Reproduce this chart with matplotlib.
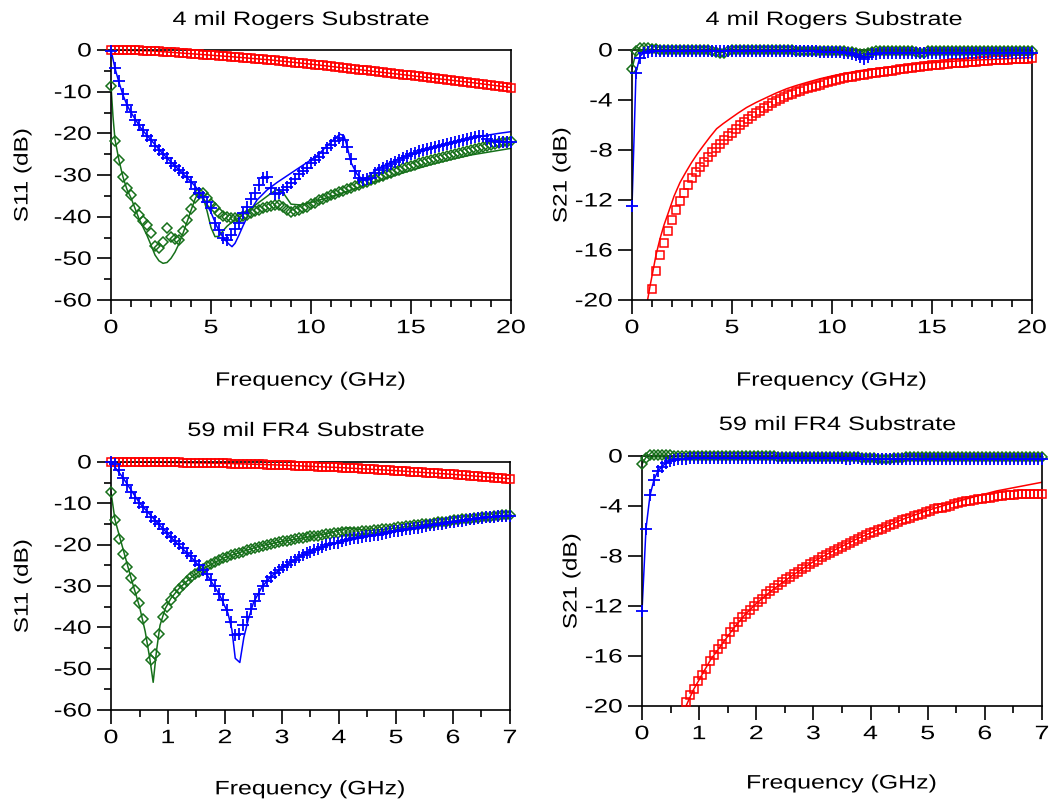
import numpy as np
import matplotlib
matplotlib.use("Agg")
import matplotlib.pyplot as plt
from matplotlib.patheffects import AbstractPathEffect
from matplotlib.transforms import Affine2D
from matplotlib.ticker import MultipleLocator

nan = np.nan

# ---------------- frequency grids (GHz) ----------------
f_top = np.round(np.arange(101) * 0.2, 3)     # 0 .. 20 GHz
f_bot = np.round(np.arange(101) * 0.07, 3)    # 0 .. 7 GHz

# ---------------- 4 mil Rogers, S11 ----------------
tl_red_meas = [0, 0, 0, -0.01, -0.02, -0.05,
               -0.07, -0.1, -0.13, -0.17, -0.2,
               -0.25, -0.3, -0.36, -0.43, -0.5,
               -0.57, -0.65, -0.73, -0.81, -0.9,
               -0.96, -1.02, -1.08, -1.14, -1.2,
               -1.28, -1.36, -1.44, -1.52, -1.6,
               -1.68, -1.76, -1.84, -1.92, -2.0,
               -2.08, -2.16, -2.24, -2.32, -2.4,
               -2.5, -2.6, -2.7, -2.8, -2.9,
               -3.0, -3.1, -3.2, -3.3, -3.4,
               -3.5, -3.6, -3.7, -3.8, -3.9,
               -4.02, -4.14, -4.26, -4.38, -4.5,
               -4.6, -4.7, -4.8, -4.9, -5.0,
               -5.12, -5.24, -5.36, -5.48, -5.6,
               -5.7, -5.8, -5.9, -6.0, -6.1,
               -6.22, -6.34, -6.46, -6.58, -6.7,
               -6.82, -6.94, -7.06, -7.18, -7.3,
               -7.4, -7.5, -7.6, -7.7, -7.8,
               -7.92, -8.04, -8.16, -8.28, -8.4,
               -8.52, -8.64, -8.76, -8.88, -9.0]
tl_blue_meas = [-0.3, -4.2, -7.4, -10.6, -13.2,
                -14.8, -16.7, -18.0, -19.3, -20.6,
                -21.7, -23.0, -24.0, -25.0, -26.0,
                -27.0, -27.9, -28.7, -29.6, -30.5,
                -31.6, -33.4, -34.4, -35.2, -36.4,
                -38.0, -41.5, -43.2, -45.0, -45.6,
                -44.4, -43.0, -41.6, -39.2, -37.7,
                -35.8, -34.3, -32.4, -30.8, -30.4,
                -33.0, -34.6, -34.4, -33.6, -32.8,
                -32.0, -31.0, -29.8, -29.0, -28.2,
                -27.2, -26.4, -25.6, -24.7, -23.6,
                -22.8, -21.8, -21.2, -21.6, -23.2,
                -26.2, -29.0, -30.6, -31.2, -31.0,
                -30.6, -29.6, -28.8, -28.2, -27.8,
                -27.3, -26.8, -26.3, -25.9, -25.4,
                -25.0, -24.6, -24.3, -24.0, -23.8,
                -23.5, -23.3, -23.0, -22.8, -22.6,
                -22.4, -22.1, -21.9, -21.6, -21.4,
                -21.1, -20.9, -20.7, -20.6, -21.4,
                -21.8, -21.9, -22.0, -22.0, -22.1,
                -22.0]
tl_green_meas = [-8.6, -21.9, -26.4, -30.4, -33.2,
                 -34.7, -38.0, -39.5, -41.0, -42.0,
                 -43.8, -47.0, -47.5, -46.0, -42.7,
                 -44.8, -45.3, -45.7, -43.5, -40.8,
                 -38.1, -35.4, -34.3, -34.2, -35.5,
                 -37.0, -38.0, -39.2, -39.8, -40.1,
                 -40.4, -40.4, -40.2, -39.9, -39.6,
                 -39.2, -38.7, -38.3, -38.0, -37.7,
                 -37.4, -37.2, -37.3, -37.7, -38.4,
                 -38.9, -38.6, -38.3, -38.0, -37.6,
                 -37.0, -36.6, -36.0, -35.7, -35.3,
                 -34.9, -34.5, -34.1, -33.8, -33.4,
                 -33.0, -32.6, -32.3, -31.9, -31.6,
                 -31.2, -30.9, -30.5, -30.2, -29.8,
                 -29.5, -29.1, -28.7, -28.4, -28.1,
                 -27.8, -27.5, -27.2, -26.9, -26.7,
                 -26.4, -26.2, -25.9, -25.6, -25.4,
                 -25.1, -24.9, -24.6, -24.4, -24.2,
                 -24.0, -23.7, -23.5, -23.3, -23.1,
                 -22.8, -22.6, -22.3, -22.1, -22.0,
                 -21.9]
tl_red_sim_f = [0, 2, 4, 6, 8, 10, 12, 14, 16, 18, 20]
tl_red_sim = [0, -0.2, -0.9, -1.6, -2.4, -3.4, -4.5, -5.6, -6.7, -7.8, -9.0]
tl_blue_sim_f = [0, 0.2, 0.4, 0.6, 0.8, 1.0, 1.5, 2.0, 2.5, 3.0, 3.5, 4.0, 4.3, 4.6,
                 5.0, 5.3, 5.6, 5.9, 6.05, 6.2, 6.4, 6.6, 6.9, 7.3, 7.8, 8.3, 8.8,
                 9.3, 9.8, 10.3, 10.8, 11.2, 11.45, 11.65, 11.8, 12.0, 12.3, 12.55,
                 12.8, 13.3, 13.8, 14.5, 15.3, 16.1, 17.0, 17.8, 18.6, 19.4, 20.0]
tl_blue_sim = [0, -4.4, -7.8, -10.8, -13.2, -15.0, -18.8, -21.6, -24.4, -26.9, -29.2,
               -31.6, -33.2, -35.4, -39.0, -42.4, -45.0, -46.6, -47.2, -46.4, -44.4,
               -42.2, -39.2, -36.0, -33.6, -31.8, -30.2, -28.6, -27.0, -25.4, -23.0,
               -21.2, -20.2, -20.6, -23.0, -27.0, -29.8, -31.0, -30.6, -28.6, -27.4,
               -25.9, -24.7, -23.5, -22.2, -21.4, -20.6, -20.0, -19.6]
tl_green_sim_f = [0, 0.1, 0.2, 0.4, 0.6, 0.8, 1.0, 1.2, 1.4, 1.6, 1.8, 2.0, 2.2, 2.4,
                  2.6, 2.8, 3.0, 3.2, 3.4, 3.6, 3.8, 4.0, 4.2, 4.4, 4.6, 4.8, 5.0,
                  5.2, 5.4, 5.6, 5.8, 6.0, 6.5, 7.0, 7.5, 8.0, 8.3, 8.6, 9.0, 9.5,
                  10, 11, 12, 13, 14, 15, 16, 17, 18, 19, 20]
tl_green_sim = [-8.6, -16, -21.5, -26.5, -30.5, -33.5, -35.5, -38, -40.5, -42.5, -44.5,
                -46.8, -49.2, -50.6, -51.2, -51.0, -50.0, -48.5, -46.5, -44.0, -41.3,
                -38.5, -35.8, -33.9, -35.2, -38.6, -42.6, -44.8, -44.7, -43.4, -42.3,
                -41.5, -39.9, -38.0, -36.2, -34.4, -33.5, -34.2, -37.0, -37.2, -36.6,
                -35.2, -33.6, -32.0, -30.4, -28.9, -27.5, -26.3, -25.2, -24.4, -23.6]

# ---------------- 4 mil Rogers, S21 ----------------
tr_red_meas = [nan, nan, nan, nan, nan,
               -19.1, -17.7, -16.4, -15.4, -14.5,
               -13.6, -12.8, -12.1, -11.4, -10.8,
               -10.2, -9.75, -9.35, -8.95, -8.55,
               -8.15, -7.8, -7.5, -7.2, -6.9,
               -6.6, -6.3, -6.0, -5.75, -5.5,
               -5.25, -5.05, -4.85, -4.65, -4.45,
               -4.25, -4.08, -3.92, -3.76, -3.62,
               -3.48, -3.36, -3.24, -3.12, -3.02,
               -2.92, -2.84, -2.76, -2.66, -2.57,
               -2.48, -2.40, -2.32, -2.25, -2.18,
               -2.12, -2.06, -2.0, -1.96, -1.91,
               -1.86, -1.82, -1.78, -1.73, -1.69,
               -1.64, -1.60, -1.55, -1.51, -1.47,
               -1.43, -1.39, -1.35, -1.31, -1.27,
               -1.23, -1.19, -1.16, -1.13, -1.10,
               -1.07, -1.05, -1.03, -1.01, -0.99,
               -0.96, -0.93, -0.90, -0.87, -0.85,
               -0.83, -0.81, -0.79, -0.77, -0.76,
               -0.74, -0.73, -0.72, -0.70, -0.69,
               -0.67]
tr_blue_meas = [-12.5, -1.8, -0.6, -0.25, -0.12, -0.08, -0.06, -0.05, -0.05, -0.06,
                -0.05, -0.04, -0.05, -0.06, -0.05, -0.05, -0.06, -0.05, -0.04, -0.05,
                -0.06, -0.07, -0.06, -0.05, -0.05, -0.05, -0.06, -0.05, -0.05, -0.06,
                -0.05, -0.05, -0.06, -0.07, -0.06, -0.05, -0.05, -0.06, -0.06, -0.07,
                -0.07, -0.08, -0.08, -0.09, -0.1, -0.1, -0.11, -0.12, -0.12, -0.13,
                -0.14, -0.15, -0.17, -0.2, -0.24, -0.3, -0.4, -0.55, -0.7, -0.55,
                -0.35, -0.28, -0.25, -0.24, -0.24, -0.23, -0.23, -0.24, -0.24, -0.23,
                -0.23, -0.24, -0.24, -0.23, -0.23, -0.24, -0.24, -0.25, -0.24, -0.24,
                -0.24, -0.25, -0.25, -0.24, -0.24, -0.25, -0.25, -0.26, -0.25, -0.25,
                -0.25, -0.26, -0.26, -0.25, -0.26, -0.26, -0.27, -0.26, -0.26, -0.27,
                -0.27]
tr_green_meas = [-1.5, -0.1, 0.15, 0.2, 0.15, 0.1, 0.05, 0.02, 0.0, 0.0,
                 0.0, 0.0, -0.02, 0.0, 0.0, -0.02, -0.03, -0.02, 0.0, -0.02,
                 -0.05, -0.15, -0.25, -0.2, -0.08, -0.03, -0.02, 0.0, 0.0, -0.02,
                 0.0, -0.02, -0.03, -0.02, 0.0, 0.0, -0.02, -0.03, -0.02, -0.02,
                 -0.03, -0.04, -0.05, -0.05, -0.04, -0.05, -0.06, -0.06, -0.05, -0.06,
                 -0.07, -0.08, -0.08, -0.1, -0.12, -0.15, -0.22, -0.3, -0.32, -0.25,
                 -0.15, -0.1, -0.08, -0.07, -0.07, -0.06, -0.06, -0.07, -0.07, -0.08,
                 -0.1, -0.15, -0.25, -0.2, -0.1, -0.08, -0.07, -0.07, -0.08, -0.08,
                 -0.08, -0.08, -0.09, -0.08, -0.08, -0.09, -0.09, -0.1, -0.09, -0.09,
                 -0.1, -0.1, -0.09, -0.1, -0.1, -0.1, -0.11, -0.1, -0.1, -0.11,
                 -0.1]
tr_red_sim_f = [0.78, 0.9, 1.07, 1.2, 1.4, 1.6, 1.82, 2.1, 2.4, 2.7, 2.98, 3.27, 3.57,
                3.9, 4.23, 4.55, 4.9, 5.3, 5.73, 6.2, 6.73, 7.2, 7.73, 8.2, 8.73, 9.4,
                10.07, 10.7, 11.4, 12.0, 12.73, 13.5, 14.4, 15.2, 16.07, 17.0, 17.73,
                18.8, 20.0]
tr_red_sim = [-20, -18.9, -17.5, -16.4, -15.1, -14.0, -13.0, -11.7, -10.6, -9.75, -9.0,
              -8.3, -7.65, -6.95, -6.3, -5.9, -5.5, -5.05, -4.6, -4.2, -3.8, -3.45,
              -3.1, -2.85, -2.6, -2.3, -2.05, -1.85, -1.65, -1.52, -1.4, -1.27, -1.1,
              -1.0, -0.9, -0.82, -0.77, -0.7, -0.6]
tr_blue_sim_f = [0, 0.2, 0.4, 0.6, 1.0, 2, 4, 6, 8, 10, 10.8, 11.2, 11.5, 11.8, 12.2,
                 13, 15, 17, 20]
tr_blue_sim = [-12.5, -1.8, -0.5, -0.2, -0.1, -0.06, -0.05, -0.05, -0.06, -0.08,
               -0.15, -0.3, -0.45, -0.35, -0.2, -0.2, -0.22, -0.22, -0.25]
tr_green_sim_f = [0, 0.2, 0.4, 1, 4, 4.4, 4.8, 8, 11, 11.5, 12, 15, 20]
tr_green_sim = [-1.5, -0.2, 0.0, 0.0, -0.05, -0.25, -0.05, -0.05, -0.15, -0.3, -0.15,
                -0.1, -0.1]

# ---------------- 59 mil FR4, S11 ----------------
bl_red_meas = [0.00, 0.00, 0.00, 0.00, -0.01, -0.01, -0.01, -0.02, -0.03, -0.03,
               -0.04, -0.05, -0.06, -0.07, -0.08, -0.09, -0.10, -0.12, -0.13, -0.15,
               -0.16, -0.18, -0.20, -0.22, -0.24, -0.26, -0.28, -0.30, -0.32, -0.34,
               -0.37, -0.39, -0.42, -0.45, -0.47, -0.50, -0.53, -0.56, -0.59, -0.62,
               -0.65, -0.69, -0.72, -0.76, -0.79, -0.83, -0.87, -0.90, -0.94, -0.98,
               -1.02, -1.06, -1.11, -1.15, -1.19, -1.24, -1.28, -1.33, -1.38, -1.42,
               -1.47, -1.52, -1.57, -1.62, -1.68, -1.73, -1.78, -1.84, -1.89, -1.95,
               -2.00, -2.06, -2.12, -2.18, -2.24, -2.30, -2.36, -2.42, -2.49, -2.55,
               -2.62, -2.68, -2.75, -2.82, -2.89, -2.95, -3.02, -3.10, -3.17, -3.24,
               -3.31, -3.39, -3.46, -3.54, -3.61, -3.69, -3.77, -3.85, -3.93, -4.01,
               -4.09]
bl_blue_meas = [0.0, -0.6, -2.0, -3.8, -5.6, -7.2, -8.6, -9.8, -11.0, -12.2,
                -13.3, -14.2, -15.1, -16.1, -17.1, -18.1, -19.1, -19.9, -20.9, -21.9,
                -22.8, -23.9, -25.0, -26.1, -27.1, -28.5, -30.1, -31.9, -33.3, -35.7,
                -38.8, -41.8, -41.7, -39.5, -37.6, -35.6, -33.6, -32.0, -30.1, -28.9,
                -27.8, -26.9, -26.1, -25.4, -24.8, -24.2, -23.6, -23.0, -22.5, -22.1,
                -21.7, -21.4, -21.0, -20.6, -20.2, -19.9, -19.7, -19.5, -19.2, -18.9,
                -18.7, -18.5, -18.3, -18.1, -18.0, -17.8, -17.7, -17.6, -17.4, -17.2,
                -17.0, -16.8, -16.7, -16.5, -16.3, -16.2, -16.0, -15.9, -15.7, -15.5,
                -15.3, -15.2, -15.0, -14.9, -14.7, -14.6, -14.5, -14.3, -14.2, -14.0,
                -13.9, -13.8, -13.6, -13.5, -13.4, -13.3, -13.2, -13.1, -13.1, -13.0,
                -13.0]
bl_green_meas = [-7.3, -14.0, -18.6, -22.2, -25.3, -28.1, -31.0, -34.0, -38.0, -43.5,
                 -48.0, -46.5, -41.5, -37.6, -35.2, -33.4, -32.0, -30.8, -29.8, -28.8,
                 -27.9, -27.2, -26.5, -25.8, -25.2, -24.6, -24.1, -23.7, -23.3, -22.9,
                 -22.6, -22.3, -22.0, -21.7, -21.3, -21.0, -20.8, -20.5, -20.3, -20.0,
                 -19.8, -19.6, -19.4, -19.2, -19.0, -18.8, -18.6, -18.5, -18.3, -18.2,
                 -18.0, -17.9, -17.8, -17.6, -17.5, -17.3, -17.2, -17.1, -17.0, -16.9,
                 -16.9, -16.9, -16.9, -16.8, -16.7, -16.6, -16.5, -16.4, -16.3, -16.2,
                 -16.1, -16.0, -15.8, -15.7, -15.5, -15.4, -15.3, -15.2, -15.1, -15.0,
                 -14.9, -14.8, -14.6, -14.5, -14.4, -14.2, -14.1, -14.0, -13.9, -13.8,
                 -13.7, -13.6, -13.5, -13.4, -13.3, -13.2, -13.1, -13.0, -12.9, -12.9,
                 -12.8]
bl_red_sim_f = [0, 1, 2, 3, 4, 5, 6, 7]
bl_red_sim = [0, -0.08, -0.33, -0.75, -1.34, -2.09, -3.0, -4.05]
bl_blue_sim_f = [0, 0.2, 0.5, 0.8, 1.1, 1.4, 1.7, 1.9, 2.05, 2.12, 2.18, 2.26, 2.33,
                 2.41, 2.5, 2.65, 2.8, 3.0, 3.3, 3.6, 4.0, 4.5, 5.0, 5.5, 6.0, 6.5, 7.0]
bl_blue_sim = [0, -3.6, -9.9, -14.5, -18.9, -22.9, -27.6, -32.0, -36.5, -40.5, -47.5,
               -48.5, -42.5, -38.0, -34.0, -30.2, -27.8, -25.6, -23.0, -21.0, -19.5,
               -18.0, -16.8, -15.7, -14.6, -13.7, -12.9]
bl_green_sim_f = [0, 0.07, 0.2, 0.35, 0.5, 0.6, 0.68, 0.74, 0.8, 0.86, 0.95, 1.05, 1.2,
                  1.4, 1.6, 1.8, 2.0, 2.3, 2.6, 3.0, 3.4, 3.8, 4.0, 4.15, 4.3, 4.5,
                  4.8, 5.2, 5.6, 6.0, 6.5, 7.0]
bl_green_sim = [-7.3, -14, -20.5, -28, -35, -41, -47.5, -53.3, -45.5, -39.5, -35.5,
                -33.0, -30.5, -28.0, -26.0, -24.4, -23.1, -21.7, -20.4, -19.2, -18.3,
                -17.3, -16.5, -15.9, -16.2, -16.6, -16.3, -15.6, -14.9, -14.3, -13.5,
                -12.8]

# ---------------- 59 mil FR4, S21 ----------------
br_red_meas = [nan, nan, nan, nan, nan, nan, nan, nan, nan, nan,
               nan, -19.7, -19.1, -18.6, -18.0, -17.5, -17.0, -16.4, -15.9, -15.45,
               -15.05, -14.6, -14.1, -13.7, -13.3, -12.9, -12.6, -12.3, -12.0, -11.7,
               -11.4, -11.05, -10.8, -10.55, -10.3, -10.1, -9.85, -9.65, -9.45, -9.25,
               -9.05, -8.85, -8.65, -8.45, -8.3, -8.1, -7.9, -7.75, -7.6, -7.45,
               -7.3, -7.12, -6.95, -6.8, -6.65, -6.5, -6.33, -6.18, -6.05, -5.92,
               -5.8, -5.68, -5.55, -5.42, -5.28, -5.15, -5.02, -4.92, -4.82, -4.72,
               -4.6, -4.5, -4.38, -4.27, -4.18, -4.12, -4.05, -3.97, -3.87, -3.78,
               -3.7, -3.62, -3.56, -3.52, -3.47, -3.42, -3.37, -3.32, -3.27, -3.22,
               -3.17, -3.15, -3.12, -3.09, -3.07, -3.05, -3.04, -3.02, -3.0, -3.0,
               -3.0]
br_blue_meas = [-12.4, -5.8, -3.15, -1.9, -1.2, -0.85, -0.55, -0.4, -0.3, -0.25,
                -0.22, -0.2, -0.19, -0.18, -0.18, -0.17, -0.17, -0.17, -0.16, -0.16,
                -0.16, -0.16, -0.16, -0.16, -0.17, -0.17, -0.16, -0.16, -0.16, -0.17,
                -0.17, -0.17, -0.17, -0.18, -0.18, -0.17, -0.17, -0.18, -0.18, -0.18,
                -0.18, -0.18, -0.19, -0.19, -0.18, -0.18, -0.19, -0.19, -0.19, -0.19,
                -0.19, -0.2, -0.2, -0.19, -0.19, -0.2, -0.2, -0.2, -0.2, -0.21,
                -0.21, -0.21, -0.2, -0.2, -0.21, -0.21, -0.21, -0.21, -0.21, -0.21,
                -0.21, -0.22, -0.22, -0.21, -0.21, -0.22, -0.22, -0.22, -0.22, -0.22,
                -0.22, -0.22, -0.23, -0.23, -0.22, -0.22, -0.23, -0.23, -0.23, -0.23,
                -0.23, -0.23, -0.24, -0.24, -0.23, -0.23, -0.24, -0.24, -0.24, -0.24,
                -0.24]
br_green_meas = [-0.65, -0.15, 0.05, 0.1, 0.1, 0.08, 0.06, 0.05, 0.04, 0.03,
                 0.03, 0.02, 0.02, 0.01, 0.01, 0.0, 0.0, 0.0, 0.0, -0.01,
                 -0.01, -0.01, -0.01, -0.02, -0.02, -0.02, -0.02, -0.02, -0.03, -0.03,
                 -0.03, -0.03, -0.03, -0.03, -0.04, -0.04, -0.04, -0.04, -0.04, -0.04,
                 -0.05, -0.05, -0.05, -0.05, -0.05, -0.05, -0.05, -0.06, -0.06, -0.06,
                 -0.06, -0.07, -0.08, -0.09, -0.1, -0.12, -0.14, -0.16, -0.18, -0.2,
                 -0.22, -0.22, -0.21, -0.19, -0.16, -0.13, -0.1, -0.08, -0.07, -0.06,
                 -0.06, -0.06, -0.06, -0.06, -0.06, -0.06, -0.07, -0.07, -0.07, -0.07,
                 -0.07, -0.07, -0.07, -0.07, -0.08, -0.08, -0.08, -0.08, -0.08, -0.08,
                 -0.08, -0.08, -0.08, -0.09, -0.09, -0.09, -0.09, -0.09, -0.09, -0.09,
                 -0.09]
br_red_sim_f = [0.77, 0.9, 1.0, 1.2, 1.4, 1.6, 1.8, 2.0, 2.3, 2.6, 3.0, 3.4, 3.8, 4.2,
                4.6, 5.0, 5.4, 5.8, 6.2, 6.6, 7.0]
br_red_sim = [-20.0, -18.7, -17.9, -16.3, -15.05, -13.8, -12.7, -11.8, -10.65, -9.65,
              -8.45, -7.45, -6.55, -5.75, -5.0, -4.35, -3.8, -3.28, -2.8, -2.45, -2.1]
br_blue_sim_f = [0, 0.07, 0.14, 0.21, 0.28, 0.35, 0.42, 0.5, 0.6, 0.8, 1.2, 2, 4, 7]
br_blue_sim = [-12.4, -5.8, -3.15, -1.9, -1.2, -0.85, -0.55, -0.4, -0.3, -0.22, -0.2,
               -0.18, -0.2, -0.22]
br_green_sim_f = [0, 0.07, 0.2, 1, 3.5, 4.0, 4.3, 4.6, 5.0, 7.0]
br_green_sim = [-0.65, -0.1, 0.0, 0.0, -0.05, -0.3, -0.5, -0.3, -0.1, -0.1]

titles = ["4 mil Rogers Substrate", "4 mil Rogers Substrate",
          "59 mil FR4 Substrate", "59 mil FR4 Substrate"]
ylabels = ["S11 (dB)", "S21 (dB)", "S11 (dB)", "S21 (dB)"]
xlabel = "Frequency (GHz)"

# ---------------- styling helpers ----------------
RED = "#ff0000"
BLUE = "#0000ff"
GREEN = "#16701a"

plt.rcParams["font.family"] = ["Liberation Sans", "DejaVu Sans"]
plt.rcParams["font.size"] = 14
plt.rcParams["axes.unicode_minus"] = False


class HStretch(AbstractPathEffect):
    """Draw text glyph outlines stretched horizontally (text stays a Text artist)."""
    def __init__(self, sx=1.3, anchor="center"):
        super().__init__()
        self._sx = sx
        self._anchor = anchor

    def draw_path(self, renderer, gc, tpath, affine, rgbFace=None):
        if len(tpath.vertices) == 0:
            return
        ext = tpath.get_extents()
        if self._anchor == "right":
            cx = ext.x1
        elif self._anchor == "left":
            cx = ext.x0
        else:
            cx = 0.5 * (ext.x0 + ext.x1)
        tr = Affine2D().translate(-cx, 0).scale(self._sx, 1.0).translate(cx, 0) + affine
        renderer.draw_path(gc, tpath, tr, rgbFace)


W, H = 1051, 804
fig = plt.figure(figsize=(W / 100, H / 100), dpi=100)
fig.patch.set_facecolor("white")


def make_axes(x0, x1, ytop, ybot):
    return fig.add_axes([x0 / W, 1 - ybot / H, (x1 - x0) / W, (ybot - ytop) / H])


panels = [
    dict(rect=(111, 511, 51, 301), xlim=(0, 20), xmaj=5, xmin=1, ylim=(-60, 0), ymaj=10, ymin=5,
         title_xy=(0.477, 1.10), ylab_x=-0.22, xlab_y=-0.343),
    dict(rect=(632, 1032, 51, 301), xlim=(0, 20), xmaj=5, xmin=1, ylim=(-20, 0), ymaj=4, ymin=None,
         title_xy=(0.507, 1.10), ylab_x=-0.175, xlab_y=-0.343),
    dict(rect=(111, 510, 463, 711), xlim=(0, 7), xmaj=1, xmin=0.5, ylim=(-60, 0), ymaj=10, ymin=5,
         title_xy=(0.49, 1.105), ylab_x=-0.22, xlab_y=-0.34),
    dict(rect=(642, 1042, 457, 707), xlim=(0, 7), xmaj=1, xmin=0.5, ylim=(-20, 0), ymaj=4, ymin=None,
         title_xy=(0.49, 1.104), ylab_x=-0.175, xlab_y=-0.33),
]

series = [
    (f_top, tl_red_meas, tl_green_meas, tl_blue_meas,
     (tl_red_sim_f, tl_red_sim), (tl_green_sim_f, tl_green_sim), (tl_blue_sim_f, tl_blue_sim)),
    (f_top, tr_red_meas, tr_green_meas, tr_blue_meas,
     (tr_red_sim_f, tr_red_sim), (tr_green_sim_f, tr_green_sim), (tr_blue_sim_f, tr_blue_sim)),
    (f_bot, bl_red_meas, bl_green_meas, bl_blue_meas,
     (bl_red_sim_f, bl_red_sim), (bl_green_sim_f, bl_green_sim), (bl_blue_sim_f, bl_blue_sim)),
    (f_bot, br_red_meas, br_green_meas, br_blue_meas,
     (br_red_sim_f, br_red_sim), (br_green_sim_f, br_green_sim), (br_blue_sim_f, br_blue_sim)),
]

for k, (p, s) in enumerate(zip(panels, series)):
    ax = make_axes(*p["rect"])
    f, red_m, green_m, blue_m, red_s, green_s, blue_s = s

    # simulated (lines)
    ax.plot(red_s[0], red_s[1], color=RED, lw=1.1, zorder=2)
    ax.plot(green_s[0], green_s[1], color=GREEN, lw=1.1, zorder=2)
    ax.plot(blue_s[0], blue_s[1], color=BLUE, lw=1.1, zorder=2)
    # measured (open markers)
    ax.plot(f, red_m, ls="none", marker="s", ms=6.0, mfc="none", mec=RED, mew=1.1,
            clip_on=False, zorder=3)
    ax.plot(f, green_m, ls="none", marker="D", ms=5.5, mfc="none", mec=GREEN, mew=1.1,
            clip_on=False, zorder=3)
    ax.plot(f, blue_m, ls="none", marker="+", ms=8.0, mec=BLUE, mew=1.3,
            clip_on=False, zorder=4)

    ax.set_xlim(*p["xlim"])
    ax.set_ylim(*p["ylim"])
    ax.xaxis.set_major_locator(MultipleLocator(p["xmaj"]))
    ax.xaxis.set_minor_locator(MultipleLocator(p["xmin"]))
    ax.yaxis.set_major_locator(MultipleLocator(p["ymaj"]))
    if p["ymin"]:
        ax.yaxis.set_minor_locator(MultipleLocator(p["ymin"]))
    ax.tick_params(which="both", direction="out", top=False, right=False,
                   width=1.2, color="black", labelsize=14)
    ax.tick_params(which="major", length=10)
    ax.tick_params(which="minor", length=5)
    ax.tick_params(axis="x", pad=4.5)
    ax.tick_params(axis="y", pad=4)
    for sp in ax.spines.values():
        sp.set_linewidth(1.2)
        sp.set_color("black")

    for t in ax.xaxis.get_major_ticks():
        t.label1.set_path_effects([HStretch(1.38, "center")])
    for t in ax.yaxis.get_major_ticks():
        t.label1.set_path_effects([HStretch(1.35, "right")])

    ttl = ax.set_title(titles[k], x=p["title_xy"][0], y=p["title_xy"][1], pad=0, fontsize=14)
    ttl.set_path_effects([HStretch(1.3, "center")])

    ax.set_xlabel(xlabel, fontsize=14)
    ax.xaxis.set_label_coords(0.5, p["xlab_y"])
    ax.xaxis.label.set_verticalalignment("baseline")
    ax.xaxis.label.set_path_effects([HStretch(1.28, "center")])

    ax.set_ylabel(ylabels[k], fontsize=14)
    ax.yaxis.set_label_coords(p["ylab_x"], 0.5)
    ax.yaxis.label.set_verticalalignment("center")
    ax.yaxis.label.set_path_effects([HStretch(1.25, "center")])

fig.savefig("out.png", dpi=100, facecolor="white")
